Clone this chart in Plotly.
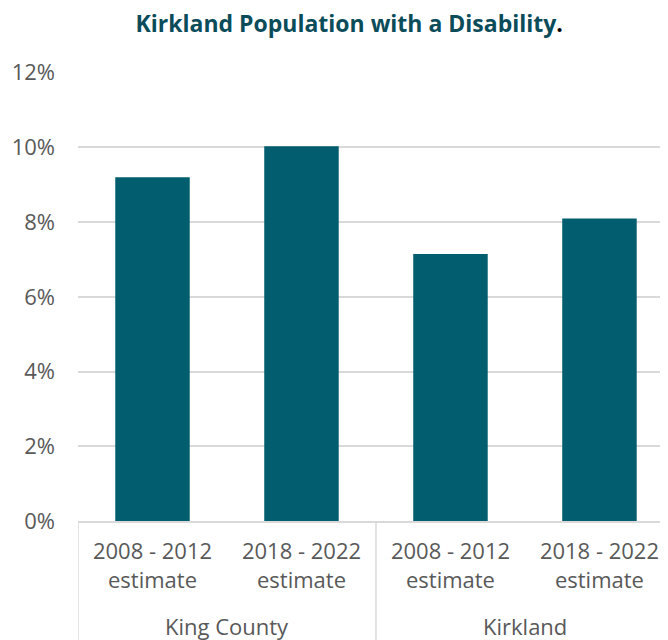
import plotly.graph_objects as go

groups = ["King County", "King County", "Kirkland", "Kirkland"]
periods = ["2008 - 2012<br>estimate", "2018 - 2022<br>estimate",
           "2008 - 2012<br>estimate", "2018 - 2022<br>estimate"]
values = [0.092, 0.1003, 0.0715, 0.081]

y_ticks = [0, 0.02, 0.04, 0.06, 0.08, 0.10, 0.12]
y_labels = ["0%", "2%", "4%", "6%", "8%", "10%", "12%"]

FONT = "Open Sans"
GRID = "#D9D9D9"
TXT = "#595959"

keys = [f"{g}|{p}" for g, p in zip(groups, periods)]

fig = go.Figure(go.Bar(x=keys, y=values, marker_color="#025E6F",
                       marker_line_width=0, width=0.5))

fig.update_layout(
    width=660, height=632,
    margin=dict(l=70, r=0, t=64, b=119, autoexpand=False),
    plot_bgcolor="white", paper_bgcolor="white",
    showlegend=False,
    title=dict(
        text="<b><span style='color:#0B4C5A'>Kirkland Population with a Disability</span>"
             "<span style='color:black'>.</span></b>",
        x=0.517, xanchor="center", y=0.975, yanchor="middle",
        font=dict(family=FONT, size=23)),
    font=dict(family=FONT, color=TXT, size=22),
)
fig.update_yaxes(range=[0, 0.1202], tickvals=y_ticks, ticktext=y_labels,
                 showgrid=True, gridcolor=GRID, gridwidth=1.5,
                 zeroline=False, showline=False, ticks="", ticklen=0,
                 tickfont=dict(size=22, color=TXT), ticklabelstandoff=22)
fig.update_xaxes(type="category", range=[-0.5, 3.46],
                 tickvals=keys, ticktext=periods,
                 showline=True, linecolor=GRID, linewidth=1.5,
                 tickfont=dict(size=22, color=TXT), ticks="", ticklabelstandoff=10)

# group labels and dividers under the axis
unique_groups = list(dict.fromkeys(groups))
start = 0
for g in unique_groups:
    n = groups.count(g)
    fig.add_annotation(x=start + (n - 1) / 2, xref="x", y=-0.234, yref="paper",
                       text=g, showarrow=False, yanchor="middle",
                       font=dict(family=FONT, size=22, color=TXT))
    fig.add_shape(type="line", xref="x", yref="paper", x0=start - 0.5, x1=start - 0.5,
                  y0=0, y1=-0.3, line=dict(color=GRID, width=1.5))
    start += n
fig.add_shape(type="line", xref="x", yref="paper", x0=start - 0.5, x1=start - 0.5,
              y0=0, y1=-0.3, line=dict(color=GRID, width=1.5))

fig.write_html("out.html")
